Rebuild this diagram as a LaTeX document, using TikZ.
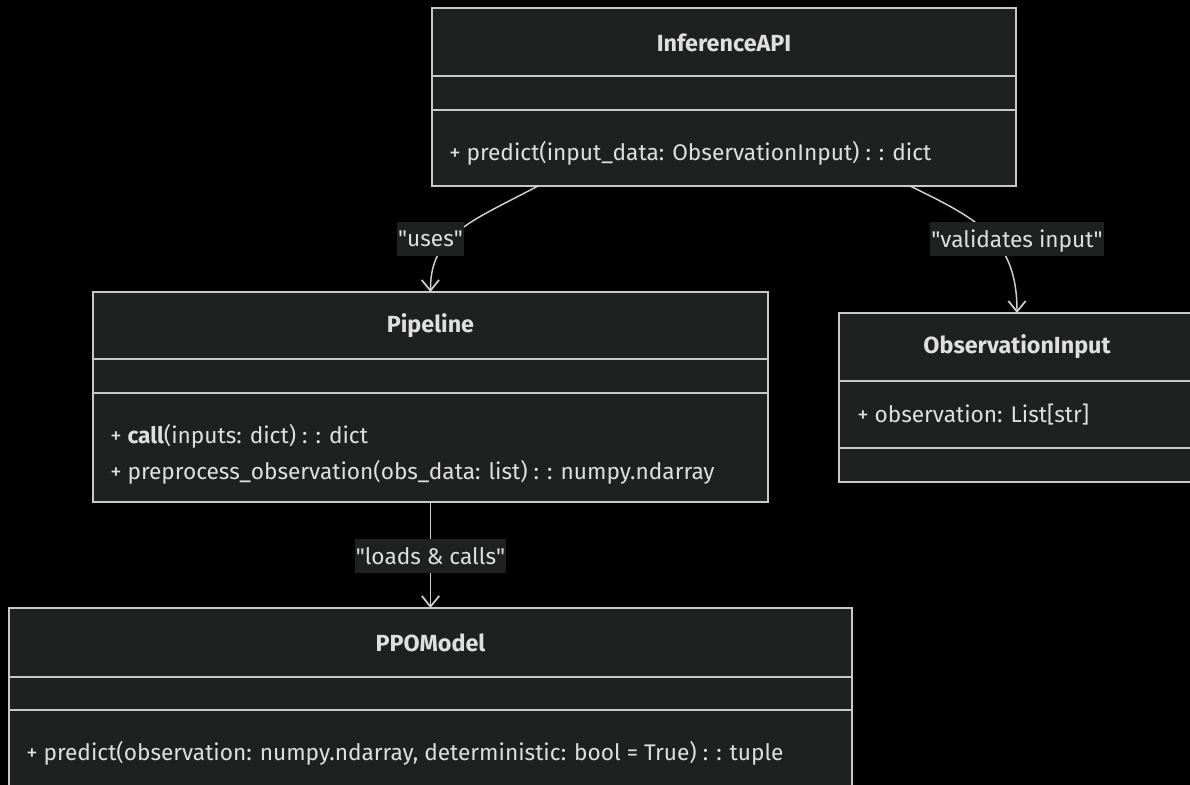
\documentclass[tikz,border=0pt]{standalone}
\usepackage{fontspec}
\setmainfont{Fira Sans}
\usetikzlibrary{arrows.meta,calc,fit}

\definecolor{canvas}{HTML}{000000}
\definecolor{boxfill}{HTML}{1F2020}
\definecolor{boxline}{HTML}{C8C8C8}
\definecolor{ink}{HTML}{E0DFDF}
\definecolor{wire}{HTML}{D0D0D0}

\newcommand{\qt}[1]{\textquotedbl#1\textquotedbl}

\tikzset{
  classbox/.style={draw=boxline, fill=boxfill, line width=1.5pt, inner sep=0pt, outer sep=0pt},
  sepline/.style={draw=boxline, line width=1.5pt},
  classname/.style={text=ink, font=\fontsize{17.5}{21}\selectfont\bfseries, inner sep=0pt},
  member/.style={text=ink, font=\fontsize{17}{20}\selectfont, inner sep=0pt, anchor=west},
  edge/.style={draw=wire, line width=1.1pt, -{Straight Barb[length=8pt,width=13pt,line width=1.3pt]}},
  edgelabel/.style={fill=boxfill, text=ink, font=\fontsize{17}{20}\selectfont, inner xsep=1pt,
    inner ysep=0pt, minimum height=25pt, text depth=0pt},
}

\begin{document}
\begin{tikzpicture}[x=0.75pt, y=-0.75pt]
  % canvas
  \fill[canvas] (0,0) rectangle (1190,785);
  \useasboundingbox (0,0) rectangle (1190,785);
  \clip (0,0) rectangle (1190,785);

  % ---- InferenceAPI ----
  \coordinate (apiA) at (432,8);
  \coordinate (apiB) at (1016,186);
  \node[classbox, fit=(apiA)(apiB)] (api) {};
  \draw[sepline] (432,76) -- (1016,76);
  \draw[sepline] (432,110) -- (1016,110);
  \node[classname] (apiT) at (724,43) {InferenceAPI};
  \node[member] (apiM1) at (449,153) {+ predict(input\_data: ObservationInput) : : dict};

  % ---- Pipeline ----
  \coordinate (pipeA) at (93,292);
  \coordinate (pipeB) at (768,502);
  \node[classbox, fit=(pipeA)(pipeB)] (pipe) {};
  \draw[sepline] (93,359) -- (768,359);
  \draw[sepline] (93,393) -- (768,393);
  \node[classname] (pipeT) at (430.5,326) {Pipeline};
  \node[member] (pipeM1) at (110,436) {+ \textbf{call}(inputs: dict) : : dict};
  \node[member] (pipeM2) at (110,472) {+ preprocess\_observation(obs\_data: list) : : numpy.ndarray};

  % ---- ObservationInput ----
  \coordinate (obsA) at (839,313);
  \coordinate (obsB) at (1195,482);
  \node[classbox, fit=(obsA)(obsB)] (obs) {};
  \draw[sepline] (839,381) -- (1195,381);
  \draw[sepline] (839,448) -- (1195,448);
  \node[classname] (obsT) at (1017,347) {ObservationInput};
  \node[member] (obsA1) at (857,415) {+ observation: List[str]};

  % ---- PPOModel ----
  \coordinate (ppoA) at (9,608);
  \coordinate (ppoB) at (852,800);
  \node[classbox, fit=(ppoA)(ppoB)] (ppo) {};
  \draw[sepline] (9,677) -- (852,677);
  \draw[sepline] (9,710) -- (852,710);
  \node[classname] (ppoT) at (430.5,643) {PPOModel};
  \node[member] (ppoM1) at (26,753) {+ predict(observation: numpy.ndarray, deterministic: bool = True) : : tuple};

  % ---- relations ----
  \draw[edge] ($(api.south)+(-186,0)$) .. controls (470,222) and (430,235) .. (pipe.north);
  \draw[edge] ($(api.south)+(186,0)$) .. controls (980,220) and (1017,240) .. (obs.north);
  \draw[edge] (pipe.south) -- (ppo.north);

  % ---- relation labels ----
  \node[edgelabel] (lUses) at (430.5,239) {\qt{uses}};
  \node[edgelabel] (lVal) at (1017,239) {\qt{validates input}};
  \node[edgelabel] (lLoad) at (430.5,556) {\qt{loads \& calls}};
\end{tikzpicture}
\end{document}
